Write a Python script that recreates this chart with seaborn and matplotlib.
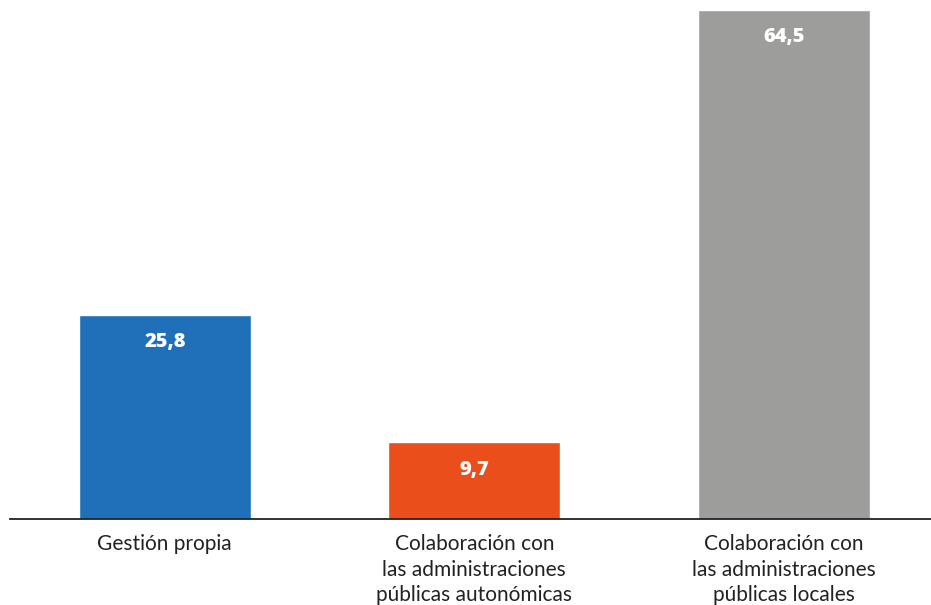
import pandas as pd
import matplotlib.pyplot as plt
import seaborn as sns

categories = ['Gestión propia',
              'Colaboración con\nlas administraciones\npúblicas autonómicas',
              'Colaboración con\nlas administraciones\npúblicas locales']
values = [25.8, 9.7, 64.5]
labels = ['25,8', '9,7', '64,5']
colors = ['#1F70B8', '#E94E1B', '#9D9D9C']

sns.set_theme(style="white")
plt.rcParams['font.family'] = ['Lato', 'DejaVu Sans']

data = pd.DataFrame({'cat': categories, 'val': values})

fig = plt.figure(figsize=(9.31, 6.05), dpi=100)
ax = fig.add_axes([10 / 931, 1 - 519 / 605, 921 / 931, 509 / 605])

sns.barplot(data=data, x='cat', y='val', hue='cat', palette=colors,
            width=0.556, legend=False, ax=ax, saturation=1)

for i, (v, t) in enumerate(zip(values, labels)):
    ax.annotate(t, xy=(i, v), xytext=(0, -19.5), textcoords='offset points',
                ha='center', va='center', color='white', fontsize=14.5,
                fontweight='heavy', family=['Open Sans', 'DejaVu Sans'])

ax.set_xlim(-0.5, 2.475)
ax.set_ylim(0, 64.5)
for s in ['top', 'right', 'left']:
    ax.spines[s].set_visible(False)
ax.spines['bottom'].set_color('#222222')
ax.spines['bottom'].set_linewidth(1.3)
ax.set_yticks([])
ax.set_xlabel('')
ax.set_ylabel('')
ax.tick_params(axis='x', length=0, pad=11, labelsize=15, labelcolor='#222222')
for lab in ax.get_xticklabels():
    lab.set_linespacing(1.33)

fig.savefig('out.png', dpi=100)
